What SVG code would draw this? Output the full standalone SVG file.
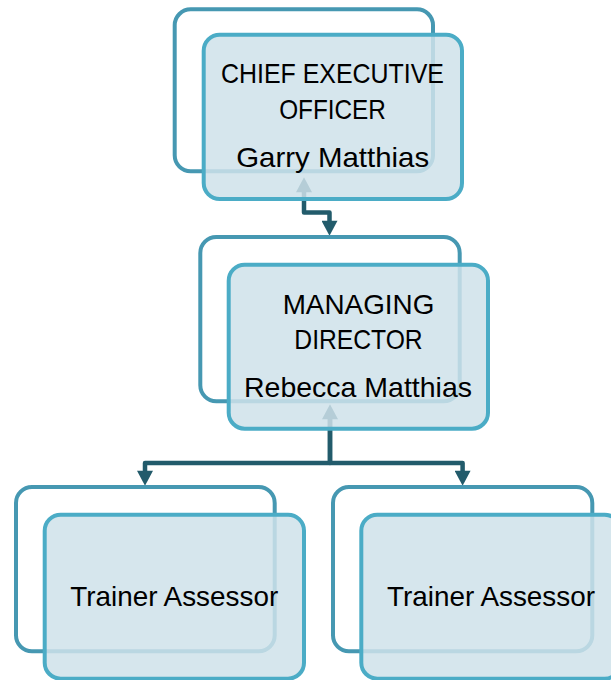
<svg xmlns="http://www.w3.org/2000/svg" width="611" height="680" viewBox="0 0 611 680">
<style>
.back{fill:none;stroke:#4698b2;stroke-width:4}
.front{fill:#cfe2ea;fill-opacity:0.85;stroke:#4bacc6;stroke-width:4}
.conn{fill:none;stroke:#225b6b;stroke-width:4.5;stroke-linejoin:round}
.t{font-family:"Liberation Sans",Arial,sans-serif;font-size:28px;fill:#000;text-anchor:middle}
</style>
<defs>
<marker id="arr" markerUnits="userSpaceOnUse" markerWidth="16" markerHeight="16" viewBox="0 0 14 15" refX="4" refY="7.5" orient="auto-start-reverse">
<path d="M0,0 L14,7.5 L0,15 z" fill="#225b6b"/>
</marker>
</defs>
<rect width="611" height="680" fill="#fff"/>
<g id="connectors">
<path class="conn" d="M304,188 V212.5 H329.5 V225" marker-start="url(#arr)" marker-end="url(#arr)"/>
<path class="conn" d="M330,415 V463 H145 V475" marker-start="url(#arr)" marker-end="url(#arr)"/>
<path class="conn" d="M330,415 V463 H462.6 V475" marker-end="url(#arr)"/>
</g>
<g id="ceo">
<rect class="back" x="174.7" y="9.3" width="258.3" height="162" rx="16"/>
<rect class="front" x="203.7" y="34.7" width="258.3" height="164.3" rx="16"/>
<text class="t" x="332.5" y="82.7" textLength="223" lengthAdjust="spacingAndGlyphs">CHIEF EXECUTIVE</text>
<text class="t" x="332.5" y="119" textLength="106.7" lengthAdjust="spacingAndGlyphs">OFFICER</text>
<text class="t" x="332.7" y="166.7" textLength="193" lengthAdjust="spacingAndGlyphs">Garry Matthias</text>
</g>
<g id="md">
<rect class="back" x="200.3" y="237" width="259.4" height="164.3" rx="16"/>
<rect class="front" x="228.7" y="264.7" width="259.3" height="164" rx="16"/>
<text class="t" x="358.5" y="314.3" textLength="151.7" lengthAdjust="spacingAndGlyphs">MANAGING</text>
<text class="t" x="358.5" y="349.3" textLength="128.3" lengthAdjust="spacingAndGlyphs">DIRECTOR</text>
<text class="t" x="358" y="396.7" textLength="228" lengthAdjust="spacingAndGlyphs">Rebecca Matthias</text>
</g>
<g id="trainer1">
<rect class="back" x="16" y="487" width="258.7" height="164.3" rx="16"/>
<rect class="front" x="44.7" y="514.7" width="259.3" height="164" rx="16"/>
<text class="t" x="174.2" y="605.7" textLength="208" lengthAdjust="spacingAndGlyphs">Trainer Assessor</text>
</g>
<g id="trainer2">
<rect class="back" x="333" y="487" width="259.3" height="164.3" rx="16"/>
<rect class="front" x="361.3" y="514.7" width="259.3" height="164" rx="16"/>
<text class="t" x="491" y="605.7" textLength="208" lengthAdjust="spacingAndGlyphs">Trainer Assessor</text>
</g>
</svg>
